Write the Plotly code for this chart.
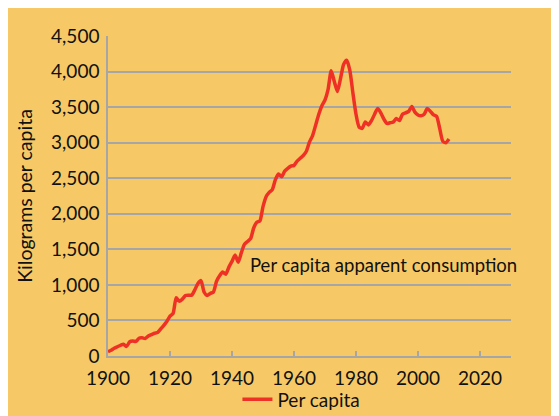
import plotly.graph_objects as go

years = list(range(1900, 2011))
per_capita = [
    60, 80, 110, 130, 150, 165, 135, 200, 210, 205,
    250, 255, 245, 280, 300, 320, 330, 380, 430, 490,
    560, 600, 820, 770, 800, 850, 855, 855, 930, 1020,
    1060, 900, 850, 880, 900, 1050, 1130, 1180, 1150, 1250,
    1330, 1420, 1320, 1450, 1570, 1610, 1650, 1800, 1880, 1900,
    2100, 2240, 2300, 2340, 2480, 2560, 2520, 2600, 2640, 2670,
    2680, 2740, 2780, 2820, 2880, 3010, 3100, 3250, 3400, 3520,
    3600, 3750, 4010, 3860, 3720, 3900, 4100, 4160, 4020, 3700,
    3400, 3220, 3200, 3290, 3250, 3310, 3400, 3480, 3420, 3330,
    3270, 3280, 3290, 3340, 3310, 3400, 3420, 3440, 3510, 3430,
    3390, 3380, 3400, 3480, 3440, 3390, 3370, 3200, 3020, 3000,
    3050,
]
y_ticks = [0, 500, 1000, 1500, 2000, 2500, 3000, 3500, 4000, 4500]
y_tick_labels = ["0", "500", "1,000", "1,500", "2,000", "2,500", "3,000", "3,500", "4,000", "4,500"]
x_ticks = [1900, 1920, 1940, 1960, 1980, 2000, 2020]

ORANGE = "#F6C966"
GRID = "#A6A6A6"
FONT = "Lato"

W, H = 559, 416
L, R, T, B = 100, 56, 28, 68

fig = go.Figure()
fig.add_trace(go.Scatter(
    x=years, y=per_capita, mode="lines", name="Per capita",
    line=dict(color="#EE3124", width=3.5, shape="spline", smoothing=0.6),
))

fig.add_annotation(
    x=1945, y=1275, xref="x", yref="y", text="Per capita apparent consumption",
    showarrow=False, xanchor="left", yanchor="middle",
    font=dict(family=FONT, size=18.5, color="#111111"),
)

fig.update_layout(
    width=W, height=H,
    margin=dict(l=L, r=R, t=T, b=B, autoexpand=False),
    paper_bgcolor=ORANGE,
    plot_bgcolor=ORANGE,
    font=dict(family=FONT, size=19, color="#111111"),
    showlegend=True,
    legend=dict(orientation="h", x=0.48, xanchor="center", y=-0.076, yanchor="top",
                bgcolor="rgba(0,0,0,0)", font=dict(size=19)),
    xaxis=dict(
        range=[1900, 2030], tickvals=x_ticks, showgrid=False, zeroline=False,
        showline=True, linecolor=GRID, linewidth=1.5,
        ticks="inside", ticklen=5, tickcolor=GRID, tickwidth=1.5,
        ticklabelstandoff=4,
    ),
    yaxis=dict(
        range=[0, 4500], tickvals=y_ticks, ticktext=y_tick_labels,
        showgrid=True, gridcolor=GRID, gridwidth=1.5, zeroline=False,
        showline=True, linecolor=GRID, linewidth=1.5,
        ticks="", ticklabelstandoff=3,
        title=dict(text="Kilograms per capita", font=dict(size=19.5), standoff=13),
    ),
)

fig.write_html("out.html")
